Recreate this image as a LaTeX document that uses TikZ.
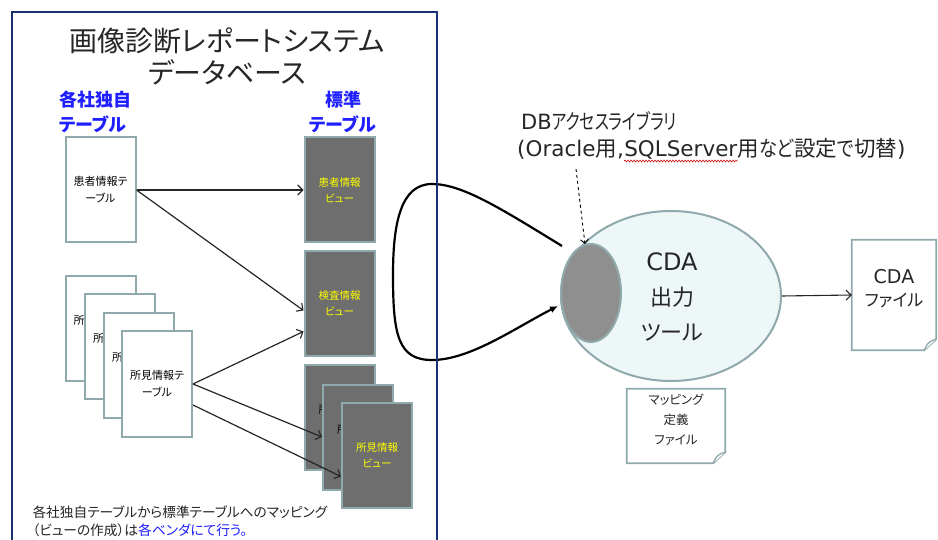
\documentclass[tikz,border=0pt]{standalone}
\usepackage{fontspec}
\setmainfont{Noto Sans CJK JP}[RawFeature=+palt]
\newfontfamily\kn{Noto Sans CJK JP}[FakeStretch=0.75, RawFeature=+palt]
\newfontfamily\knb{Noto Sans CJK JP}[FakeStretch=0.85, RawFeature=+palt]
\newfontfamily\lat{DejaVu Sans}
\usetikzlibrary{shapes.geometric,arrows.meta,calc,decorations.pathmorphing}
\definecolor{navy}{HTML}{1B3175}
\definecolor{cardB}{HTML}{8FA9AD}
\definecolor{viewF}{HTML}{6E6E6E}
\definecolor{ellF}{HTML}{EEF7F7}
\definecolor{dbF}{HTML}{8F8F8F}
\definecolor{lblue}{HTML}{1F1FFF}
\definecolor{yel}{HTML}{FFFF00}
\definecolor{txt}{HTML}{262626}
\newcommand{\fsz}[2]{\fontsize{#1}{#2}\selectfont}
\begin{document}
\begin{tikzpicture}[x=1pt,y=-1pt,
  card/.style={draw=cardB, line width=2pt, fill=white, minimum width=70pt, minimum height=105pt,
    inner sep=0pt, align=center, font=\fsz{11}{17}, text=black},
  view/.style={card, fill=viewF, text=yel, font=\fsz{10.5}{16}},
  conn/.style={-{Straight Barb[length=5pt,width=10pt,line width=1.1pt]}, line width=1.2pt, draw=black!85},
  doc/.style={draw=cardB, line width=1.8pt, fill=white},
  dbtext/.style={anchor=base west, inner sep=0pt, font=\fsz{21.5}{28}, text=txt},
]
% canvas
\path[fill=white] (0,0) rectangle (938,540);
\useasboundingbox (0,0) rectangle (938,540);

% title and labels
\node[font=\fsz{28}{32}, align=center, text=txt] (title) at (227,56) {画像診断レポートシステム\\データベース};
\node[font=\fsz{18}{25}\bfseries, text=lblue, align=left, anchor=west] (lab1) at (56,112) {各社独自\\テーブル};
\node[font=\fsz{18}{25}\bfseries, text=lblue, align=center] (lab2) at (343,112) {標準\\テーブル};

% company tables
\node[card] (pt) at (100.5,190) {患者情報テ\\ーブル};
\node[card] (f1) at (100.5,328.5) {所見情報テ\\ーブル};
\node[card] (f2) at (120,346.5) {所見情報テ\\ーブル};
\node[card] (f3) at (139,365.5) {所見情報テ\\ーブル};
\node[card] (f4) at (157,384) {所見情報テ\\ーブル};

% standard views
\node[view] (v1) at (339.5,190) {患者情報\\ビュー};
\node[view] (v2) at (339.5,303.5) {検査情報\\ビュー};
\node[view, text=black] (sv1) at (339.5,417.5) {所見情報\\ビュー};
\node[view, text=black] (sv2) at (358,437) {所見情報\\ビュー};
\node[view] (sv3) at (377,455.5) {所見情報\\ビュー};

% mapping arrows
\draw[conn] (pt.east) -- (v1.west);
\draw[conn] (pt.east) -- ($(v2.west)+(0,7)$);
\draw[conn] (f4.east) -- ($(v2.west)+(0,28)$);
\draw[conn] (f4.east) -- (sv2.west);
\draw[conn] ($(f4.east)+(0,21)$) -- ($(sv3.west)+(0,21)$);

% note
\node[font=\fsz{13.7}{18}, align=left, anchor=west, text=txt] (note) at (29,521)
  {各社独自テーブルから標準テーブルへのマッピング\\（ビューの作成）は\textcolor{lblue}{各ベンダにて行う。}};

% CDA tool
\node[ellipse, draw=cardB, line width=2pt, fill=ellF, minimum width=220pt, minimum height=170pt, inner sep=0pt] (tool) at (671,296) {};
\node[ellipse, draw=cardB, line width=2pt, fill=dbF, minimum width=60pt, minimum height=98pt, inner sep=0pt] (dbl) at (591,293) {};
\node[font=\fsz{22}{35}, align=center, text=txt] (tooltxt) at (672,297) {{\lat\fsz{24}{35}CDA}\\出力\\ツール};

% DB access library label
\node[dbtext, font=\fsz{21}{28}] (db1) at (521,130) {{\lat DB}{\kn アクセスライブラリ}};
\node[dbtext] (db2a) at (517,157) {{\lat (Oracle}用{\lat ,}};
\node[dbtext, font=\lat\fsz{21.5}{28}] (sqls) at (db2a.base east) {SQLServer};
\node[dbtext] (db2b) at (sqls.base east) {用{\knb など}設定{\knb で}切替{\lat )}};
\draw[red!80!black, line width=0.6pt, decorate, decoration={snake, amplitude=0.9pt, segment length=3pt}]
  ($(sqls.base west)+(0,4)$) -- ($(sqls.base east)+(0,4)$);
\coordinate (dashS) at (576,169);
\draw[dashed, line width=0.9pt, -{Straight Barb[length=4pt,width=8pt]}] (dashS) -- (dbl.97);

% loop connector
\coordinate (ls) at (562,246);
\coordinate (le) at (558,306);
\draw[line width=2.2pt, -{Latex[length=8pt,width=7pt]}] (ls)
  .. controls (500,208) and (462,184) .. (432,184)
  .. controls (400,184) and (393,225) .. (393,275)
  .. controls (393,335) and (398,360) .. (432,360)
  .. controls (470,360) and (515,328) .. (le);

% CDA file
\node[minimum width=84pt, minimum height=110pt, inner sep=0pt] (cdaf) at (894,295) {};
\draw[doc] (cdaf.north west) -- (cdaf.north east) -- ($(cdaf.south east)+(0,-11)$)
  -- ($(cdaf.south east)+(-12,0)$) -- (cdaf.south west) -- cycle;
\draw[doc, line width=1.3pt] ($(cdaf.south east)+(0,-11)$) .. controls ($(cdaf.south east)+(-6,-9)$) .. ($(cdaf.south east)+(-9,-6)$)
  -- ($(cdaf.south east)+(-12,0)$);
\node[font=\fsz{17}{23}, align=center, text=txt] (cdaftxt) at (894,289) {{\lat\fsz{19}{23}CDA}\\ファイル};
\draw[conn, line width=1.1pt] (tool.east) -- (cdaf.west);

% mapping definition file
\node[minimum width=98pt, minimum height=74pt, inner sep=0pt] (mf) at (676,426) {};
\draw[doc] (mf.north west) -- (mf.north east) -- ($(mf.south east)+(0,-11)$)
  -- ($(mf.south east)+(-12,0)$) -- (mf.south west) -- cycle;
\draw[doc, line width=1.3pt] ($(mf.south east)+(0,-11)$) .. controls ($(mf.south east)+(-6,-9)$) .. ($(mf.south east)+(-9,-6)$)
  -- ($(mf.south east)+(-12,0)$);
\node[font=\fsz{12.5}{20}, align=center, text=txt] (mftxt) at (676,420) {マッピング\\定義\\ファイル};

% database frame
\draw[navy, line width=2.6pt] (12,560) -- (12,12) -- (437,12) -- (437,560);
\end{tikzpicture}
\end{document}
